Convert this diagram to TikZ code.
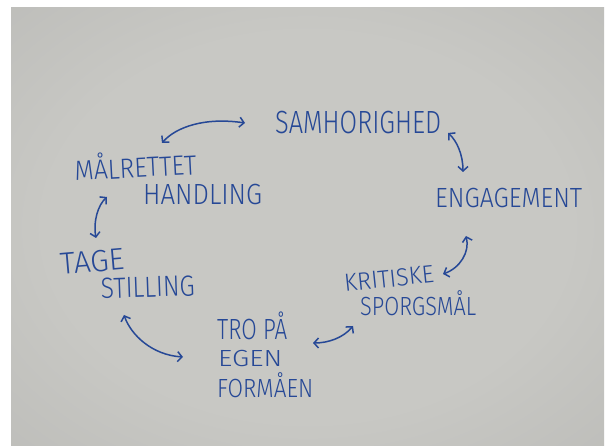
\documentclass[tikz,border=0pt]{standalone}
\usepackage{fontspec}
\IfFontExistsTF{Fira Sans Light}{\setmainfont{Fira Sans Light}}{\setmainfont{Fira Sans}}
\usepackage{graphicx}
\usetikzlibrary{arrows.meta}

\definecolor{ink}{RGB}{38,72,150}
\definecolor{boardmid}{RGB}{200,200,196}
\definecolor{boardedge}{RGB}{180,180,177}
\definecolor{boardcorner}{RGB}{158,158,158}
\pgfdeclareradialshading{boardlight}{\pgfpoint{0bp}{0bp}}{%
  color(0bp)=(boardmid); color(22bp)=(boardmid);
  color(50bp)=(boardedge); color(72bp)=(boardcorner)}

% a marker word stretched to a given width and cap height (rings stick out)
\newcommand{\hw}[3]{\resizebox{#1pt}{#2pt}{\smash{#3}\vphantom{M}}}

\begin{document}
\begin{tikzpicture}[x=1pt,y=-1pt,
  word/.style={inner sep=0pt, text=ink, anchor=south west},
  arr/.style={draw=ink, line width=1.5pt, line cap=round,
    {Straight Barb[length=4.5pt,width=10pt]}-{Straight Barb[length=4.5pt,width=10pt]}}]
\useasboundingbox (0,0) rectangle (606,446);
\fill[white] (0,0) rectangle (606,446);
\shade[shading=boardlight] (11,8) rectangle (604,446);

% words
\node[word] (sam) at (275,134) {\hw{166}{22}{SAMHORIGHED}};
\node[word, rotate=3] (mal) at (75,181) {\hw{122}{19}{MÅLRETTET}};
\node[word] (hand) at (143,205) {\hw{119}{20}{HANDLING}};
\node[word] (eng) at (435,208) {\hw{147}{19}{ENGAGEMENT}};
\node[word, rotate=5] (tage) at (61,275) {\hw{64}{21}{TAGE}};
\node[word, rotate=2] (still) at (101,299) {\hw{94}{20}{STILLING}};
\node[word, rotate=6] (krit) at (345,292) {\hw{90}{17}{KRITISKE}};
\node[word] (sporg) at (360,316) {\hw{116}{18}{SPORGSMÅL}};
\node[word] (tro) at (217,340) {\hw{70}{20}{TRO PÅ}};
\node[word] (egen) at (218,367) {\hw{64}{16}{EGEN}};
\node[word] (form) at (217,398) {\hw{96}{18}{FORMÅEN}};

% arrow ends
\coordinate (mal-up) at (162,143);
\coordinate (sam-left) at (245,123);
\coordinate (sam-right) at (448,133);
\coordinate (eng-up) at (463,172);
\coordinate (mal-down) at (107,197);
\coordinate (tage-up) at (96,238);
\coordinate (still-down) at (124,315);
\coordinate (tro-left) at (183,357);
\coordinate (tro-right) at (313,343);
\coordinate (krit-left) at (353,326);
\coordinate (eng-down) at (466,236);
\coordinate (krit-right) at (443,274);

% connectors
\draw[arr] (mal-up) .. controls (176,127) and (205,117) .. (sam-left);
\draw[arr] (sam-right) .. controls (457,141) and (463,155) .. (eng-up);
\draw[arr] (mal-down) .. controls (98,205) and (93,222) .. (tage-up);
\draw[arr] (still-down) .. controls (131,335) and (152,355) .. (tro-left);
\draw[arr] (tro-right) .. controls (328,343) and (343,338) .. (krit-left);
\draw[arr] (eng-down) .. controls (470,252) and (460,268) .. (krit-right);
\end{tikzpicture}
\end{document}
